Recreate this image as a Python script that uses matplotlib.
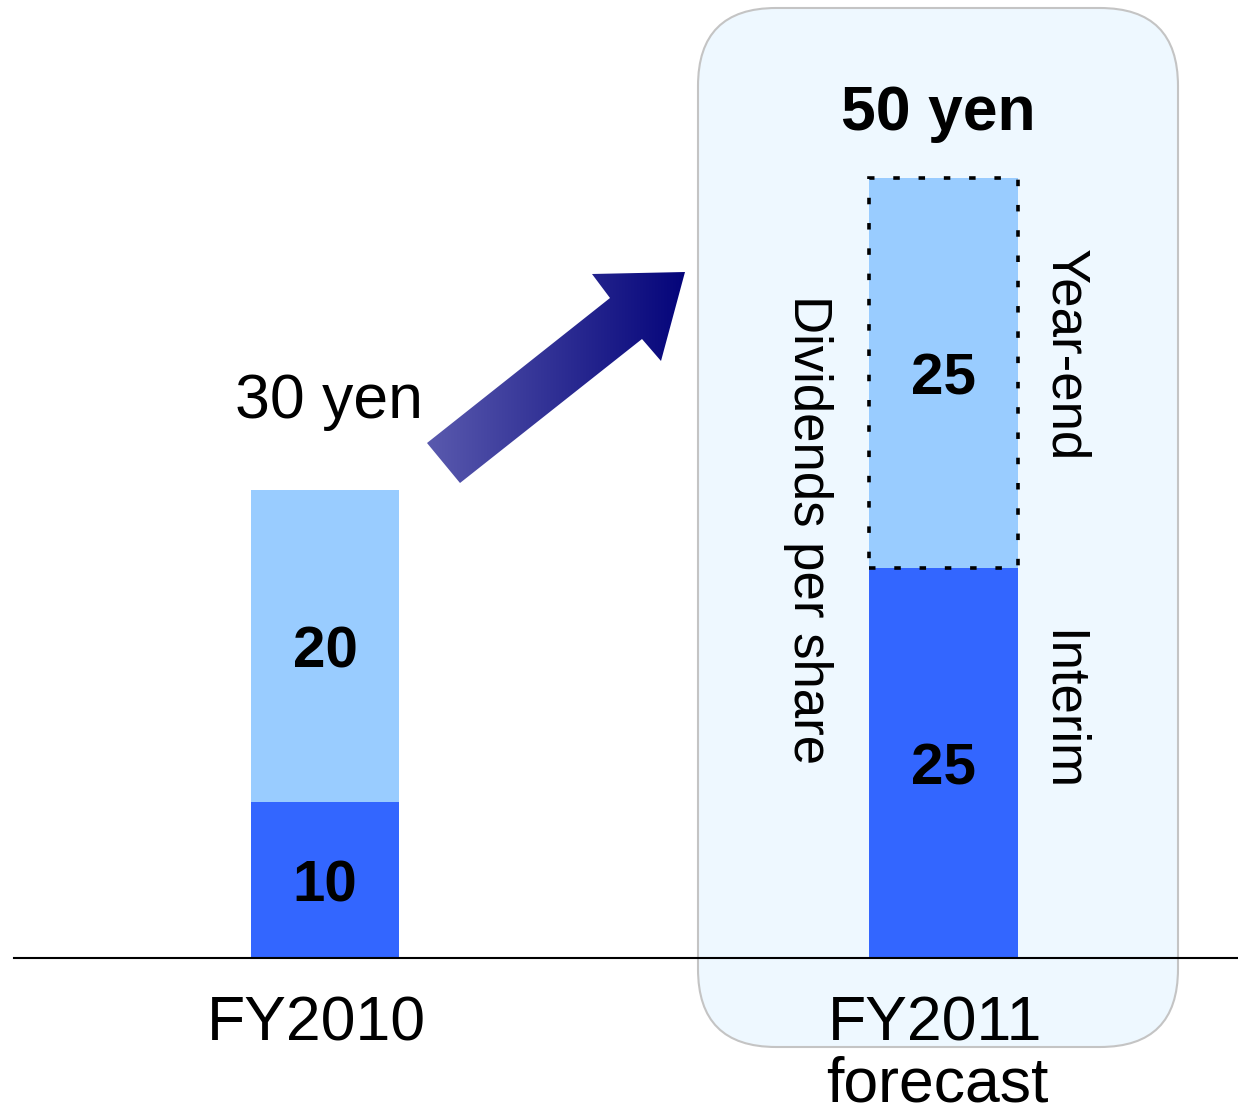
import numpy as np
import matplotlib
matplotlib.use('Agg')
import matplotlib.pyplot as plt
from matplotlib.patches import FancyBboxPatch, Polygon
from matplotlib.colors import LinearSegmentedColormap

plt.rcParams['font.family'] = ['Liberation Sans', 'DejaVu Sans']

# dividends per share, yen
years = ['FY2010', 'FY2011']
year_notes = ['', 'forecast']
interim = [10, 25]
year_end = [20, 25]
totals = [a + b for a, b in zip(interim, year_end)]

DARK = '#3366FF'
LIGHT = '#99CCFF'

W, H = 1238, 1111
fig = plt.figure(figsize=(W / 100, H / 100), dpi=100)

# back layer in pixel units: forecast highlight box, arrow, side captions
bg = fig.add_axes([0, 0, 1, 1], zorder=0)
bg.axis('off')

box = FancyBboxPatch((698, 8), 480, 1039,
                     boxstyle='round,pad=0,rounding_size=78',
                     facecolor='#EEF8FF', edgecolor='#C4C4C4', linewidth=1.5)
bg.add_patch(box)

arrow_pts = np.array([[427, 443], [610, 298], [592, 274], [685, 272],
                      [661, 361], [642, 339], [460, 483]])
arrow = Polygon(arrow_pts, closed=True, facecolor='none', edgecolor='none')
bg.add_patch(arrow)
arrow_cmap = LinearSegmentedColormap.from_list('arrow', ['#5a5aae', '#04047a'])
grad = np.linspace(0, 1, 256).reshape(1, -1)
im = bg.imshow(grad, cmap=arrow_cmap, extent=(427, 685, 483, 272),
               aspect='auto', interpolation='bilinear')
im.set_clip_path(arrow)

bg.set_xlim(0, W)
bg.set_ylim(H, 0)

bg.text(808, 530, 'Dividends per share', rotation=-90, fontsize=38,
        ha='center', va='center')
bg.text(1065, 355, 'Year-end', rotation=-90, fontsize=38,
        ha='center', va='center')
bg.text(1062, 711, 'Interim', rotation=-90, fontsize=38,
        ha='center', va='center')

# front layer: the stacked bars in yen
ax = fig.add_axes([0, 0, 1, 1], zorder=1)
ax.patch.set_alpha(0)
ax.axis('off')
x = np.arange(len(years))
width = 0.24

ax.bar(x, interim, width=width, color=DARK, zorder=2)
tops = ax.bar(x, year_end, bottom=interim, width=width, color=LIGHT, zorder=2)
# forecast year-end part is not fixed yet -> dashed outline
tops[1].set_edgecolor('black')
tops[1].set_linestyle((0, (1.8, 5.2)))
tops[1].set_linewidth(2.6)

ax.axhline(0, xmin=14 / W, xmax=1, color='black', linewidth=1.5, zorder=3)

cap = 1.35  # half the digit height, in yen
for i in range(len(years)):
    ax.text(x[i], interim[i] / 2 - cap, str(interim[i]), ha='center',
            va='baseline', fontsize=42, fontweight='bold', zorder=4)
    ax.text(x[i], interim[i] + year_end[i] / 2 - cap, str(year_end[i]),
            ha='center', va='baseline', fontsize=42, fontweight='bold', zorder=4)
    ax.text(x[i] - 0.014, -5.3, years[i], ha='center', va='baseline', fontsize=45)
    if year_notes[i]:
        ax.text(x[i] - 0.01, -9.2, year_notes[i], ha='center', va='baseline',
                fontsize=45)

ax.text(x[0] + 0.007, totals[0] + 4.6, f'{totals[0]} yen', ha='center',
        va='baseline', fontsize=45)
ax.text(x[1] - 0.009, totals[1] + 3.1, f'{totals[1]} yen', ha='center',
        va='baseline', fontsize=45, fontweight='bold')

ax.set_xlim(-0.5255, 1.4762)
ax.set_ylim(-9.81, 61.41)

fig.savefig('out.png', dpi=100)
